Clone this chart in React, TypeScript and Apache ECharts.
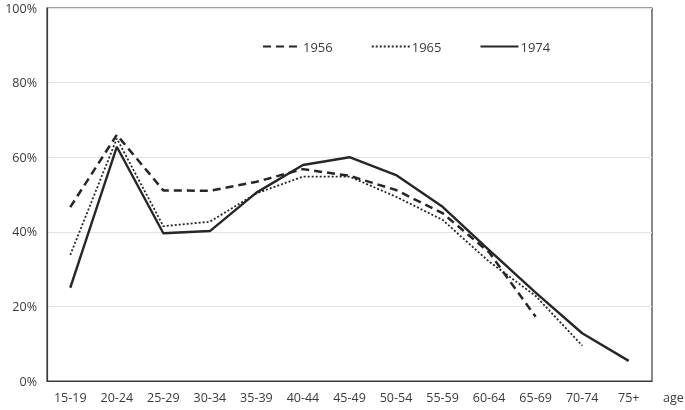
import React, { useEffect, useRef } from "react";
import * as echarts from "echarts";

const categories = ["15-19", "20-24", "25-29", "30-34", "35-39", "40-44", "45-49", "50-54", "55-59", "60-64", "65-69", "70-74", "75+"];
const s1956 = [46.6, 66.0, 51.1, 51.0, 53.4, 56.8, 55.0, 51.2, 45.0, 34.5, 17.2, null, null];
const s1965 = [33.8, 65.0, 41.5, 42.7, 50.3, 54.8, 54.8, 49.4, 43.2, 32.0, 22.8, 9.5, null];
const s1974 = [25.0, 62.8, 39.6, 40.2, 50.5, 57.9, 60.0, 55.2, 46.7, 35.1, 23.7, 12.8, 5.4];
const yTicks = { min: 0, max: 100, interval: 20 };

const FONT = "'Open Sans', 'Liberation Sans', sans-serif";
const TEXT = "#3a3a3a";

export default function App() {
  const ref = useRef<HTMLDivElement>(null);
  useEffect(() => {
    const chart = echarts.init(ref.current!, null, { renderer: "svg" });
    const mk = (name: string, data: (number | null)[], type: any, width: number) => ({
      name,
      type: "line",
      data,
      symbol: "none",
      connectNulls: false,
      lineStyle: { color: "#262626", width, type },
      itemStyle: { color: "#262626" },
    });
    chart.setOption({
      animation: false,
      grid: { left: 47, right: 33, top: 8, bottom: 29, show: true, borderColor: "#3a3a3a", borderWidth: 1.2 },
      legend: {
        top: 35,
        left: 257,
        itemWidth: 38,
        itemHeight: 14,
        itemGap: 38,
        itemStyle: { opacity: 0 },
        textStyle: { fontFamily: FONT, fontSize: 13, color: TEXT, padding: [0, 0, 0, -3] },
        data: ["1956", "1965", "1974"],
      },
      xAxis: {
        type: "category",
        data: categories,
        boundaryGap: true,
        axisLine: { show: true, lineStyle: { color: "#3a3a3a", width: 1.2 } },
        axisTick: { show: false },
        axisLabel: { fontFamily: FONT, fontSize: 12.5, color: TEXT, margin: 10 },
      },
      yAxis: {
        type: "value",
        min: yTicks.min,
        max: yTicks.max,
        interval: yTicks.interval,
        axisLine: { show: true, lineStyle: { color: "#3a3a3a", width: 1.2 } },
        axisTick: { show: false },
        splitLine: { lineStyle: { color: "#e3e3e3", width: 1 } },
        axisLabel: { formatter: "{value}%", fontFamily: FONT, fontSize: 12.5, color: TEXT, margin: 10 },
      },
      graphic: [
        { type: "text", left: 663, top: 391, style: { text: "age", font: `12.5px ${FONT}`, fill: TEXT } },
      ],
      series: [
        mk("1956", s1956, [8, 5], 2.5),
        mk("1965", s1965, [2, 2], 1.8),
        mk("1974", s1974, "solid", 2.4),
      ],
    });
    return () => chart.dispose();
  }, []);
  return <div ref={ref} style={{ position: "fixed", left: 0, top: 0, width: 685, height: 410 }} />;
}
